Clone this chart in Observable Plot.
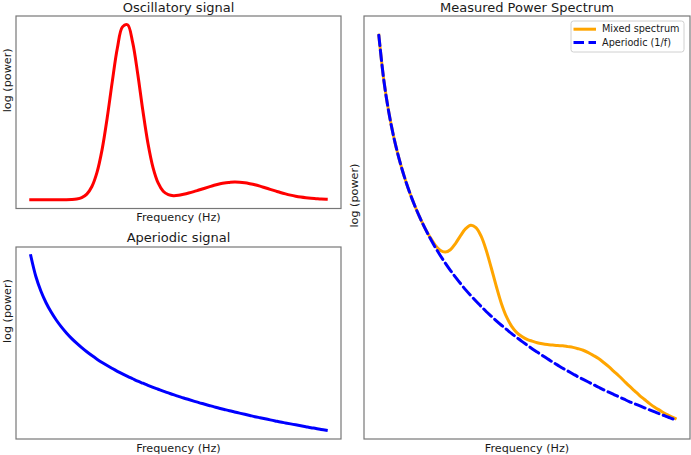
<!DOCTYPE html>
<html><head><meta charset="utf-8">
<script src="https://cdn.jsdelivr.net/npm/d3@7"></script>
<script src="https://cdn.jsdelivr.net/npm/@observablehq/plot@0.6"></script>
<style>
html,body{margin:0;padding:0;background:#fff;}
#chart{position:relative;width:691px;height:455px;font-family:"DejaVu Sans",sans-serif;overflow:hidden;}
#chart > svg{position:absolute;margin:0;}
</style></head><body><div id="chart"></div>
<script>
// Frequency grid (Hz)
const freqs = [1,1.5,2,2.5,3,3.5,4,4.5,5,5.5,6,6.5,7,7.5,8,8.5,9,9.5,10,10.5,11,11.5,12,12.5,13,13.5,14,14.5,15,15.5,16,16.5,17,17.5,18,18.5,19,19.5,20,20.5,21,21.5,22,22.5,23,23.5,24,24.5,25,25.5,26,26.5,27,27.5,28,28.5,29,29.5,30];
// Oscillatory (periodic) component
const oscillatory = [0,0,0,0,0,0,0,0,0.001,0.004,0.012,0.032,0.075,0.155,0.284,0.463,0.669,0.859,0.979,0.991,0.891,0.712,0.505,0.320,0.182,0.095,0.048,0.029,0.023,0.025,0.031,0.038,0.046,0.055,0.064,0.073,0.082,0.089,0.095,0.098,0.100,0.099,0.096,0.091,0.085,0.077,0.068,0.059,0.050,0.041,0.033,0.026,0.020,0.015,0.011,0.008,0.006,0.004,0.003];
// Aperiodic (1/f) component, log power
const aperiodic = [0,-0.176,-0.301,-0.398,-0.477,-0.544,-0.602,-0.653,-0.699,-0.740,-0.778,-0.813,-0.845,-0.875,-0.903,-0.929,-0.954,-0.978,-1.000,-1.021,-1.041,-1.061,-1.079,-1.097,-1.114,-1.130,-1.146,-1.161,-1.176,-1.190,-1.204,-1.217,-1.230,-1.243,-1.255,-1.267,-1.279,-1.290,-1.301,-1.312,-1.322,-1.332,-1.342,-1.352,-1.362,-1.371,-1.380,-1.389,-1.398,-1.407,-1.415,-1.423,-1.431,-1.439,-1.447,-1.455,-1.462,-1.470,-1.477];
// Mixed spectrum, log power
const mixed = [0,-0.176,-0.301,-0.398,-0.477,-0.544,-0.602,-0.653,-0.699,-0.740,-0.775,-0.805,-0.826,-0.833,-0.824,-0.800,-0.770,-0.743,-0.730,-0.739,-0.771,-0.825,-0.893,-0.965,-1.031,-1.082,-1.118,-1.142,-1.157,-1.168,-1.175,-1.181,-1.185,-1.188,-1.190,-1.192,-1.193,-1.196,-1.199,-1.204,-1.210,-1.219,-1.230,-1.242,-1.257,-1.273,-1.291,-1.309,-1.328,-1.347,-1.365,-1.383,-1.399,-1.415,-1.429,-1.441,-1.453,-1.463,-1.472];

const titles = ["Oscillatory signal", "Aperiodic signal", "Measured Power Spectrum"];
const xLabel = "Frequency (Hz)";
const yLabel = "log (power)";
const legendLabels = ["Mixed spectrum", "Aperiodic (1/f)"];

const rows = freqs.map((f, i) => ({f, osc: oscillatory[i], ap: aperiodic[i], mix: mixed[i]}));

function pad(ext){ const r = ext[1] - ext[0]; return [ext[0] - 0.05*r, ext[1] + 0.05*r]; }
const xDomain = pad(d3.extent(freqs));
const FONT = '"DejaVu Sans", sans-serif';
const INK = "#1a1a1a";

function decor(title, o){
  return [
    Plot.frame({stroke:"#777", strokeWidth:1.2}),
    Plot.text([title], {text:d=>d, frameAnchor:"top", dy:o.titleDy, lineAnchor:"bottom", fontSize:13, fill:INK}),
    Plot.text([xLabel], {text:d=>d, frameAnchor:"bottom", dy:o.xDy, lineAnchor:"bottom", fontSize:11.2, fill:INK}),
    Plot.text([yLabel], {text:d=>d, frameAnchor:"left", dx:o.yDx, rotate:-90, lineAnchor:"middle", fontSize:11.2, fill:INK})
  ];
}
const chart = document.getElementById("chart");
function place(svg, left, top){ svg.style.left = left + "px"; svg.style.top = top + "px"; chart.appendChild(svg); }

// Top-left: oscillatory
place(Plot.plot({
  width:350, height:228, marginTop:15.5, marginLeft:15.5, marginRight:9.5, marginBottom:20,
  x:{domain:xDomain, axis:null}, y:{domain:pad(d3.extent(oscillatory)), axis:null},
  style:{fontFamily:FONT, background:"transparent", overflow:"visible"},
  marks:[
    ...decor(titles[0], {titleDy:-4.5, xDy:12.6, yDx:-8.5}),
    Plot.line(rows, {x:"f", y:"osc", stroke:"#ff0000", strokeWidth:3, curve:"catmull-rom", strokeLinecap:"square"})
  ]
}), 0, 0);

// Bottom-left: aperiodic
place(Plot.plot({
  width:350, height:227, marginTop:18.5, marginLeft:15.5, marginRight:9.5, marginBottom:16.5,
  x:{domain:xDomain, axis:null}, y:{domain:pad(d3.extent(aperiodic)), axis:null},
  style:{fontFamily:FONT, background:"transparent", overflow:"visible"},
  marks:[
    ...decor(titles[1], {titleDy:-4.7, xDy:12.8, yDx:-8.5}),
    Plot.line(rows, {x:"f", y:"ap", stroke:"#0000ff", strokeWidth:3, curve:"catmull-rom", strokeLinecap:"square"})
  ]
}), 0, 228);

// Right: measured power spectrum
place(Plot.plot({
  width:346, height:455, marginTop:15.5, marginLeft:18.5, marginRight:1.5, marginBottom:16.5,
  x:{domain:xDomain, axis:null}, y:{domain:pad(d3.extent(mixed.concat(aperiodic))), axis:null},
  style:{fontFamily:FONT, background:"transparent", overflow:"visible"},
  marks:[
    ...decor(titles[2], {titleDy:-4.5, xDy:12.8, yDx:-9.5}),
    Plot.line(rows, {x:"f", y:"mix", stroke:"#ffa500", strokeWidth:3, curve:"catmull-rom", strokeLinecap:"square"}),
    Plot.line(rows, {x:"f", y:"ap", stroke:"#0000ff", strokeWidth:3, curve:"catmull-rom", strokeDasharray:"10.5,4.5"})
  ]
}), 345, 0);

// Legend
const lg = d3.create("svg").attr("width",691).attr("height",455).style("left","0px").style("top","0px").style("pointer-events","none");
lg.append("rect").attr("x",571).attr("y",21).attr("width",113).attr("height",31).attr("rx",2.5)
  .attr("fill","white").attr("fill-opacity",0.8).attr("stroke","#d0d0d0").attr("stroke-width",1);
lg.append("line").attr("x1",575).attr("x2",594.5).attr("y1",29.2).attr("y2",29.2)
  .attr("stroke","#ffa500").attr("stroke-width",3).attr("stroke-linecap","square");
lg.append("line").attr("x1",573.5).attr("x2",596).attr("y1",42.6).attr("y2",42.6)
  .attr("stroke","#0000ff").attr("stroke-width",3).attr("stroke-dasharray","10.5,4.5");
lg.selectAll("text").data(legendLabels).join("text")
  .attr("x",602).attr("y",(d,i)=> i===0 ? 32.4 : 45.8)
  .attr("font-family",FONT).attr("font-size",9.7).attr("fill",INK).text(d=>d);
chart.appendChild(lg.node());
</script>
</body></html>
